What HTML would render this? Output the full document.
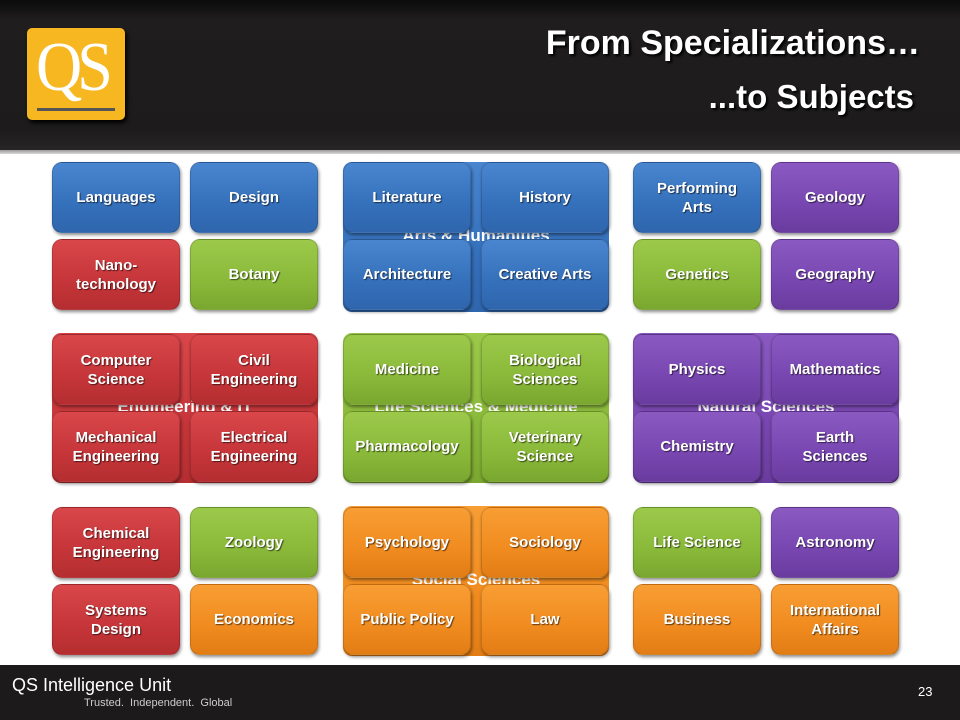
<!DOCTYPE html>
<html><head><meta charset="utf-8">
<style>
*{margin:0;padding:0;box-sizing:border-box}
body{width:960px;height:720px;overflow:hidden;background:#fff;position:relative;font-family:"Liberation Sans",sans-serif}
#hdr{position:absolute;left:0;top:0;width:960px;height:150px;background:linear-gradient(#0c0b0b 0,#1f1d1d 20px,#1d1b1b 130px,#272525 150px)}
#hline{position:absolute;left:0;top:150px;width:960px;height:4px;background:linear-gradient(#9a9a9a,#d8d8d8)}
#logo{position:absolute;left:27px;top:28px;width:98px;height:92px;background:#f6b720;border-radius:5px;box-shadow:2px 3px 4px #000}
#logo .t{position:absolute;left:9px;top:-2px;font-family:"Liberation Serif",serif;color:#fff;font-size:64px;letter-spacing:-5px;transform:scaleY(1.1);transform-origin:top}
#logo .b{position:absolute;left:10px;top:80px;width:78px;height:3px;background:#555}
.h1{position:absolute;right:40px;color:#fff;font-weight:bold;text-shadow:2px 2px 2px #000}
#ftr{position:absolute;left:0;top:665px;width:960px;height:55px;background:#1c1a1a}
.g{position:absolute;border-radius:9px}
.gl{position:absolute;width:100%;text-align:center;color:#fff;font-weight:bold;font-size:17px}
.tile{position:absolute;width:128px;height:71px;border-radius:10px;display:flex;align-items:center;justify-content:center;text-align:center;color:#fff;font-weight:bold;font-size:15px;line-height:19px;text-shadow:1px 1px 1px rgba(0,0,0,.6);box-shadow:1px 2px 3px rgba(0,0,0,.45);border:1px solid rgba(0,0,0,.15)}
.B{background:linear-gradient(#4a86d0,#3570bb 60%,#2f66ad)}
.R{background:linear-gradient(#d9474a,#c53539 60%,#b52e31)}
.G{background:linear-gradient(#9cc94a,#8ab93a 60%,#7aa72f)}
.O{background:linear-gradient(#f89e34,#f08b1f 60%,#e27d16)}
.P{background:linear-gradient(#8a5ac2,#7846b0 60%,#6a3c9f)}
</style></head><body>
<div id="hdr"></div><div id="hline"></div>
<div id="logo"><div class="t">QS</div><div class="b"></div></div>
<div class="h1" style="top:24px;font-size:34px;">From Specializations…</div>
<div class="h1" style="top:78px;right:46px;font-size:33px;">...to Subjects</div>

<div class="g B" style="left:343px;top:162px;width:266px;height:150px"><div class="gl" style="top:64px">Arts &amp; Humanities</div></div>
<div class="g R" style="left:52px;top:333px;width:266px;height:150px"><div class="gl" style="top:64px">Engineering &amp; IT</div></div>
<div class="g G" style="left:343px;top:333px;width:266px;height:150px"><div class="gl" style="top:64px">Life Sciences &amp; Medicine</div></div>
<div class="g P" style="left:633px;top:333px;width:266px;height:150px"><div class="gl" style="top:64px">Natural Sciences</div></div>
<div class="g O" style="left:343px;top:506px;width:266px;height:150px"><div class="gl" style="top:64px">Social Sciences</div></div>

<div class="tile B" style="left:52px;top:162px">Languages</div>
<div class="tile B" style="left:190px;top:162px">Design</div>
<div class="tile R" style="left:52px;top:239px">Nano-<br>technology</div>
<div class="tile G" style="left:190px;top:239px">Botany</div>

<div class="tile B" style="left:343px;top:162px">Literature</div>
<div class="tile B" style="left:481px;top:162px">History</div>
<div class="tile B" style="left:343px;top:239px">Architecture</div>
<div class="tile B" style="left:481px;top:239px">Creative Arts</div>

<div class="tile B" style="left:633px;top:162px">Performing<br>Arts</div>
<div class="tile P" style="left:771px;top:162px">Geology</div>
<div class="tile G" style="left:633px;top:239px">Genetics</div>
<div class="tile P" style="left:771px;top:239px">Geography</div>

<div class="tile R" style="left:52px;top:334px">Computer<br>Science</div>
<div class="tile R" style="left:190px;top:334px">Civil<br>Engineering</div>
<div class="tile R" style="left:52px;top:411px">Mechanical<br>Engineering</div>
<div class="tile R" style="left:190px;top:411px">Electrical<br>Engineering</div>

<div class="tile G" style="left:343px;top:334px">Medicine</div>
<div class="tile G" style="left:481px;top:334px">Biological<br>Sciences</div>
<div class="tile G" style="left:343px;top:411px">Pharmacology</div>
<div class="tile G" style="left:481px;top:411px">Veterinary<br>Science</div>

<div class="tile P" style="left:633px;top:334px">Physics</div>
<div class="tile P" style="left:771px;top:334px">Mathematics</div>
<div class="tile P" style="left:633px;top:411px">Chemistry</div>
<div class="tile P" style="left:771px;top:411px">Earth<br>Sciences</div>

<div class="tile R" style="left:52px;top:507px">Chemical<br>Engineering</div>
<div class="tile G" style="left:190px;top:507px">Zoology</div>
<div class="tile R" style="left:52px;top:584px">Systems<br>Design</div>
<div class="tile O" style="left:190px;top:584px">Economics</div>

<div class="tile O" style="left:343px;top:507px">Psychology</div>
<div class="tile O" style="left:481px;top:507px">Sociology</div>
<div class="tile O" style="left:343px;top:584px">Public Policy</div>
<div class="tile O" style="left:481px;top:584px">Law</div>

<div class="tile G" style="left:633px;top:507px">Life Science</div>
<div class="tile P" style="left:771px;top:507px">Astronomy</div>
<div class="tile O" style="left:633px;top:584px">Business</div>
<div class="tile O" style="left:771px;top:584px">International<br>Affairs</div>

<div id="ftr"></div>
<div style="position:absolute;left:12px;top:675px;color:#fff;font-size:18px;">QS Intelligence Unit</div>
<div style="position:absolute;left:84px;top:697px;color:#ccc;font-size:11px;">Trusted.&nbsp; Independent.&nbsp; Global</div>
<div style="position:absolute;left:918px;top:684px;color:#fff;font-size:13px;">23</div>
</body></html>
